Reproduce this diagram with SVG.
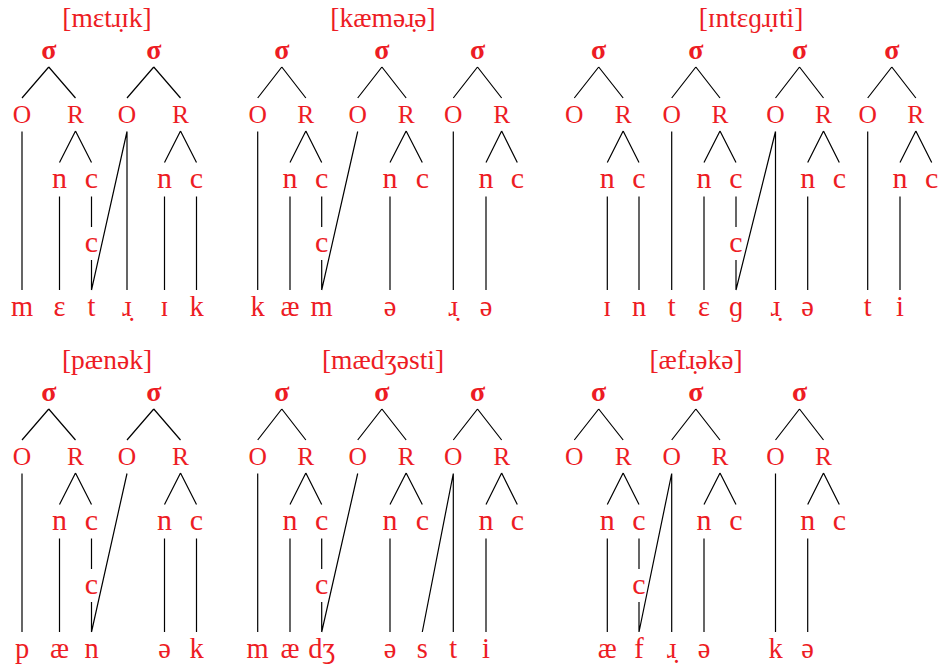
<svg xmlns="http://www.w3.org/2000/svg" width="939" height="668" viewBox="0 0 939 668">
<style>
text{font-family:"Liberation Serif","DejaVu Serif",serif;fill:#ED1C24;text-anchor:middle}
.t{font-size:27.5px}
.s{font-size:28px;font-weight:bold}
.k{font-size:25.5px}
.l{font-size:30px}
.g{font-size:28.5px}
.e{stroke:#000;stroke-width:1.2;fill:none}
</style>
<rect width="939" height="668" fill="#fff"/>

<!-- Diagram 1 -->
<g id="d1">
<g id="d1-connectors" class="e">
<path d="M48.75 67L22 98M48.75 67L75.5 98M153.75 67L127 98M153.75 67L180.5 98"/>
<path d="M75.5 131L59.5 162.5M75.5 131L91.5 162.5M180.5 131L164.5 162.5M180.5 131L196.5 162.5"/>
<path d="M22 131.5V290M59.5 196.5V290M91.5 196.5V227M91.5 260V290M127 131.5L91.5 290M127 131.5V290M164.5 196.5V290M196.5 196.5V290"/>
</g>
<g id="d1-title"><text class="t" x="107" y="27">[mɛtɹ̣ɪk]</text></g>
<g id="d1-sig1"><text class="s" x="48.75" y="58.5">σ</text></g>
<g id="d1-sig2"><text class="s" x="153.75" y="58.5">σ</text></g>
<g id="d1-o1"><text class="k" x="22" y="123">O</text></g>
<g id="d1-r1"><text class="k" x="75.5" y="123">R</text></g>
<g id="d1-o2"><text class="k" x="127" y="123">O</text></g>
<g id="d1-r2"><text class="k" x="180.5" y="123">R</text></g>
<g id="d1-n1"><text class="l" x="59.5" y="188">n</text></g>
<g id="d1-c1"><text class="l" x="91.5" y="188">c</text></g>
<g id="d1-n2"><text class="l" x="164.5" y="188">n</text></g>
<g id="d1-c2"><text class="l" x="196.5" y="188">c</text></g>
<g id="d1-cx"><text class="l" x="91.5" y="252">c</text></g>
<g id="d1-seg1"><text class="g" x="22" y="316">m</text></g>
<g id="d1-seg2"><text class="g" x="59.5" y="316">ɛ</text></g>
<g id="d1-seg3"><text class="g" x="91.5" y="316">t</text></g>
<g id="d1-seg4"><text class="g" x="127" y="316">ɹ̣</text></g>
<g id="d1-seg5"><text class="g" x="164.5" y="316">ɪ</text></g>
<g id="d1-seg6"><text class="g" x="196.5" y="316">k</text></g>
</g>

<!-- Diagram 2 -->
<g id="d2">
<g id="d2-connectors" class="e">
<path d="M281.8 67L257.7 98M281.8 67L305.85 98M381.9 67L357.7 98M381.9 67L406.15 98M477.5 67L453.3 98M477.5 67L501.65 98"/>
<path d="M305.85 131L290 162.5M305.85 131L321.7 162.5M406.15 131L390 162.5M406.15 131L422.3 162.5M501.65 131L486 162.5M501.65 131L517.3 162.5"/>
<path d="M257.7 131.5V290M290 196.5V290M321.7 196.5V227M321.7 260V290M357.7 131.5L321.7 290M390 196.5V290M453.3 131.5V290M486 196.5V290"/>
</g>
<g id="d2-title"><text class="t" x="383" y="27">[kæməɹ̣ə]</text></g>
<g id="d2-sig1"><text class="s" x="281.8" y="58.5">σ</text></g>
<g id="d2-sig2"><text class="s" x="381.9" y="58.5">σ</text></g>
<g id="d2-sig3"><text class="s" x="477.5" y="58.5">σ</text></g>
<g id="d2-o1"><text class="k" x="257.7" y="123">O</text></g>
<g id="d2-r1"><text class="k" x="305.85" y="123">R</text></g>
<g id="d2-o2"><text class="k" x="357.7" y="123">O</text></g>
<g id="d2-r2"><text class="k" x="406.15" y="123">R</text></g>
<g id="d2-o3"><text class="k" x="453.3" y="123">O</text></g>
<g id="d2-r3"><text class="k" x="501.65" y="123">R</text></g>
<g id="d2-n1"><text class="l" x="290" y="188">n</text></g>
<g id="d2-c1"><text class="l" x="321.7" y="188">c</text></g>
<g id="d2-n2"><text class="l" x="390" y="188">n</text></g>
<g id="d2-c2"><text class="l" x="422.3" y="188">c</text></g>
<g id="d2-n3"><text class="l" x="486" y="188">n</text></g>
<g id="d2-c3"><text class="l" x="517.3" y="188">c</text></g>
<g id="d2-cx"><text class="l" x="321.7" y="252">c</text></g>
<g id="d2-seg1"><text class="g" x="257.7" y="316">k</text></g>
<g id="d2-seg2"><text class="g" x="290" y="316">æ</text></g>
<g id="d2-seg3"><text class="g" x="321.7" y="316">m</text></g>
<g id="d2-seg4"><text class="g" x="390" y="316">ə</text></g>
<g id="d2-seg5"><text class="g" x="453.3" y="316">ɹ̣</text></g>
<g id="d2-seg6"><text class="g" x="486" y="316">ə</text></g>
</g>

<!-- Diagram 3 -->
<g id="d3">
<g id="d3-connectors" class="e">
<path d="M598.7 67L574.3 98M598.7 67L623.15 98M695.85 67L671.7 98M695.85 67L720 98M799.5 67L775.5 98M799.5 67L823.5 98M891.8 67L867.7 98M891.8 67L915.85 98"/>
<path d="M623.15 131L607.3 162.5M623.15 131L639 162.5M720 131L704 162.5M720 131L736 162.5M823.5 131L807.7 162.5M823.5 131L839.3 162.5M915.85 131L900 162.5M915.85 131L931.7 162.5"/>
<path d="M607.3 196.5V290M639 196.5V290M671.7 131.5V290M704 196.5V290M736 196.5V227M736 260V290M775.5 131.5L736 290M775.5 131.5V290M807.7 196.5V290M867.7 131.5V290M900 196.5V290"/>
</g>
<g id="d3-title"><text class="t" x="751" y="27">[ɪntɛɡɹ̣ɪti]</text></g>
<g id="d3-sig1"><text class="s" x="598.7" y="58.5">σ</text></g>
<g id="d3-sig2"><text class="s" x="695.85" y="58.5">σ</text></g>
<g id="d3-sig3"><text class="s" x="799.5" y="58.5">σ</text></g>
<g id="d3-sig4"><text class="s" x="891.8" y="58.5">σ</text></g>
<g id="d3-o1"><text class="k" x="574.3" y="123">O</text></g>
<g id="d3-r1"><text class="k" x="623.15" y="123">R</text></g>
<g id="d3-o2"><text class="k" x="671.7" y="123">O</text></g>
<g id="d3-r2"><text class="k" x="720" y="123">R</text></g>
<g id="d3-o3"><text class="k" x="775.5" y="123">O</text></g>
<g id="d3-r3"><text class="k" x="823.5" y="123">R</text></g>
<g id="d3-o4"><text class="k" x="867.7" y="123">O</text></g>
<g id="d3-r4"><text class="k" x="915.85" y="123">R</text></g>
<g id="d3-n1"><text class="l" x="607.3" y="188">n</text></g>
<g id="d3-c1"><text class="l" x="639" y="188">c</text></g>
<g id="d3-n2"><text class="l" x="704" y="188">n</text></g>
<g id="d3-c2"><text class="l" x="736" y="188">c</text></g>
<g id="d3-n3"><text class="l" x="807.7" y="188">n</text></g>
<g id="d3-c3"><text class="l" x="839.3" y="188">c</text></g>
<g id="d3-n4"><text class="l" x="900" y="188">n</text></g>
<g id="d3-c4"><text class="l" x="931.7" y="188">c</text></g>
<g id="d3-cx"><text class="l" x="736" y="252">c</text></g>
<g id="d3-seg1"><text class="g" x="607.3" y="316">ɪ</text></g>
<g id="d3-seg2"><text class="g" x="639" y="316">n</text></g>
<g id="d3-seg3"><text class="g" x="671.7" y="316">t</text></g>
<g id="d3-seg4"><text class="g" x="704" y="316">ɛ</text></g>
<g id="d3-seg5"><text class="g" x="736" y="316">ɡ</text></g>
<g id="d3-seg6"><text class="g" x="775.5" y="316">ɹ̣</text></g>
<g id="d3-seg7"><text class="g" x="807.7" y="316">ə</text></g>
<g id="d3-seg8"><text class="g" x="867.7" y="316">t</text></g>
<g id="d3-seg9"><text class="g" x="900" y="316">i</text></g>
</g>

<!-- Diagram 4 -->
<g id="d4">
<g id="d4-connectors" class="e">
<path d="M48.75 409L22 440M48.75 409L75.5 440M153.75 409L127 440M153.75 409L180.5 440"/>
<path d="M75.5 473L59.5 504.5M75.5 473L91.5 504.5M180.5 473L164.5 504.5M180.5 473L196.5 504.5"/>
<path d="M22 473.5V632M59.5 538.5V632M91.5 538.5V569M91.5 602V632M127 473.5L91.5 632M164.5 538.5V632M196.5 538.5V632"/>
</g>
<g id="d4-title"><text class="t" x="107" y="369">[pænək]</text></g>
<g id="d4-sig1"><text class="s" x="48.75" y="400.5">σ</text></g>
<g id="d4-sig2"><text class="s" x="153.75" y="400.5">σ</text></g>
<g id="d4-o1"><text class="k" x="22" y="465">O</text></g>
<g id="d4-r1"><text class="k" x="75.5" y="465">R</text></g>
<g id="d4-o2"><text class="k" x="127" y="465">O</text></g>
<g id="d4-r2"><text class="k" x="180.5" y="465">R</text></g>
<g id="d4-n1"><text class="l" x="59.5" y="530">n</text></g>
<g id="d4-c1"><text class="l" x="91.5" y="530">c</text></g>
<g id="d4-n2"><text class="l" x="164.5" y="530">n</text></g>
<g id="d4-c2"><text class="l" x="196.5" y="530">c</text></g>
<g id="d4-cx"><text class="l" x="91.5" y="594">c</text></g>
<g id="d4-seg1"><text class="g" x="22" y="658">p</text></g>
<g id="d4-seg2"><text class="g" x="59.5" y="658">æ</text></g>
<g id="d4-seg3"><text class="g" x="91.5" y="658">n</text></g>
<g id="d4-seg4"><text class="g" x="164.5" y="658">ə</text></g>
<g id="d4-seg5"><text class="g" x="196.5" y="658">k</text></g>
</g>

<!-- Diagram 5 -->
<g id="d5">
<g id="d5-connectors" class="e">
<path d="M281.8 409L257.7 440M281.8 409L305.85 440M381.9 409L357.7 440M381.9 409L406.15 440M477.5 409L453.3 440M477.5 409L501.65 440"/>
<path d="M305.85 473L290 504.5M305.85 473L321.7 504.5M406.15 473L390 504.5M406.15 473L422.3 504.5M501.65 473L486 504.5M501.65 473L517.3 504.5"/>
<path d="M257.7 473.5V632M290 538.5V632M321.7 538.5V569M321.7 602V632M357.7 473.5L321.7 632M390 538.5V632M453.3 473.5L422.3 632M453.3 473.5V632M486 538.5V632"/>
</g>
<g id="d5-title"><text class="t" x="383" y="369">[mædʒəsti]</text></g>
<g id="d5-sig1"><text class="s" x="281.8" y="400.5">σ</text></g>
<g id="d5-sig2"><text class="s" x="381.9" y="400.5">σ</text></g>
<g id="d5-sig3"><text class="s" x="477.5" y="400.5">σ</text></g>
<g id="d5-o1"><text class="k" x="257.7" y="465">O</text></g>
<g id="d5-r1"><text class="k" x="305.85" y="465">R</text></g>
<g id="d5-o2"><text class="k" x="357.7" y="465">O</text></g>
<g id="d5-r2"><text class="k" x="406.15" y="465">R</text></g>
<g id="d5-o3"><text class="k" x="453.3" y="465">O</text></g>
<g id="d5-r3"><text class="k" x="501.65" y="465">R</text></g>
<g id="d5-n1"><text class="l" x="290" y="530">n</text></g>
<g id="d5-c1"><text class="l" x="321.7" y="530">c</text></g>
<g id="d5-n2"><text class="l" x="390" y="530">n</text></g>
<g id="d5-c2"><text class="l" x="422.3" y="530">c</text></g>
<g id="d5-n3"><text class="l" x="486" y="530">n</text></g>
<g id="d5-c3"><text class="l" x="517.3" y="530">c</text></g>
<g id="d5-cx"><text class="l" x="321.7" y="594">c</text></g>
<g id="d5-seg1"><text class="g" x="257.7" y="658">m</text></g>
<g id="d5-seg2"><text class="g" x="290" y="658">æ</text></g>
<g id="d5-seg3"><text class="g" x="321.7" y="658">dʒ</text></g>
<g id="d5-seg4"><text class="g" x="390" y="658">ə</text></g>
<g id="d5-seg5"><text class="g" x="422.3" y="658">s</text></g>
<g id="d5-seg6"><text class="g" x="453.3" y="658">t</text></g>
<g id="d5-seg7"><text class="g" x="486" y="658">i</text></g>
</g>

<!-- Diagram 6 -->
<g id="d6">
<g id="d6-connectors" class="e">
<path d="M598.7 409L574.3 440M598.7 409L623.15 440M695.85 409L671.7 440M695.85 409L720 440M799.5 409L775.5 440M799.5 409L823.5 440"/>
<path d="M623.15 473L607.3 504.5M623.15 473L639 504.5M720 473L704 504.5M720 473L736 504.5M823.5 473L807.7 504.5M823.5 473L839.3 504.5"/>
<path d="M607.3 538.5V632M639 538.5V569M639 602V632M671.7 473.5L639 632M671.7 473.5V632M704 538.5V632M775.5 473.5V632M807.7 538.5V632"/>
</g>
<g id="d6-title"><text class="t" x="696" y="369">[æfɹ̣əkə]</text></g>
<g id="d6-sig1"><text class="s" x="598.7" y="400.5">σ</text></g>
<g id="d6-sig2"><text class="s" x="695.85" y="400.5">σ</text></g>
<g id="d6-sig3"><text class="s" x="799.5" y="400.5">σ</text></g>
<g id="d6-o1"><text class="k" x="574.3" y="465">O</text></g>
<g id="d6-r1"><text class="k" x="623.15" y="465">R</text></g>
<g id="d6-o2"><text class="k" x="671.7" y="465">O</text></g>
<g id="d6-r2"><text class="k" x="720" y="465">R</text></g>
<g id="d6-o3"><text class="k" x="775.5" y="465">O</text></g>
<g id="d6-r3"><text class="k" x="823.5" y="465">R</text></g>
<g id="d6-n1"><text class="l" x="607.3" y="530">n</text></g>
<g id="d6-c1"><text class="l" x="639" y="530">c</text></g>
<g id="d6-n2"><text class="l" x="704" y="530">n</text></g>
<g id="d6-c2"><text class="l" x="736" y="530">c</text></g>
<g id="d6-n3"><text class="l" x="807.7" y="530">n</text></g>
<g id="d6-c3"><text class="l" x="839.3" y="530">c</text></g>
<g id="d6-cx"><text class="l" x="639" y="594">c</text></g>
<g id="d6-seg1"><text class="g" x="607.3" y="658">æ</text></g>
<g id="d6-seg2"><text class="g" x="639" y="658">f</text></g>
<g id="d6-seg3"><text class="g" x="671.7" y="658">ɹ̣</text></g>
<g id="d6-seg4"><text class="g" x="704" y="658">ə</text></g>
<g id="d6-seg5"><text class="g" x="775.5" y="658">k</text></g>
<g id="d6-seg6"><text class="g" x="807.7" y="658">ə</text></g>
</g>
</svg>
